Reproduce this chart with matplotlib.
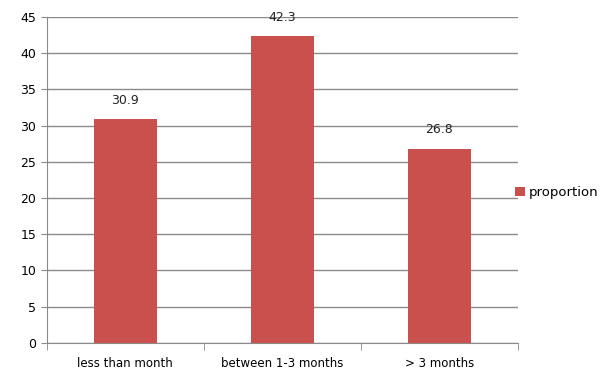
import matplotlib.pyplot as plt
import numpy as np

# data
categories = ['less than month', 'between 1-3 months', '> 3 months']
proportion = [30.9, 42.3, 26.8]

fig = plt.figure(figsize=(6, 3.74), dpi=100)
ax = fig.add_axes([0.078, 0.083, 0.785, 0.872])

x = np.arange(len(categories))
bars = ax.bar(x, proportion, width=0.4, color='#c9504c', label='proportion', zorder=3)

for xi, v in zip(x, proportion):
    ax.text(xi, v + 2.6, f'{v:.1f}', ha='center', va='center', fontsize=9, color='#222222')

ax.set_xlim(-0.5, len(categories) - 0.5)
ax.set_ylim(0, 45)
ax.set_yticks(range(0, 46, 5))
ax.yaxis.grid(True, color='#8a8a8a', linewidth=1)
ax.set_axisbelow(True)

ax.set_xticks(x)
ax.set_xticklabels(categories, fontsize=8.5)
ax.tick_params(axis='y', labelsize=9, length=4, color='#8a8a8a')
ax.tick_params(axis='x', length=0, pad=10)
# category separators on the x axis
ax.set_xticks(np.arange(-0.5, len(categories), 1), minor=True)
ax.tick_params(axis='x', which='minor', length=5, color='#8a8a8a', direction='out')

for s in ['top', 'right']:
    ax.spines[s].set_visible(False)
for s in ['left', 'bottom']:
    ax.spines[s].set_color('#8a8a8a')

ax.legend(loc='center left', bbox_to_anchor=(0.995, 0.46), frameon=False, fontsize=9.5,
          handlelength=0.7, handleheight=0.7, handletextpad=0.3, borderaxespad=0,
          borderpad=0)

fig.savefig('out.png', dpi=100)
